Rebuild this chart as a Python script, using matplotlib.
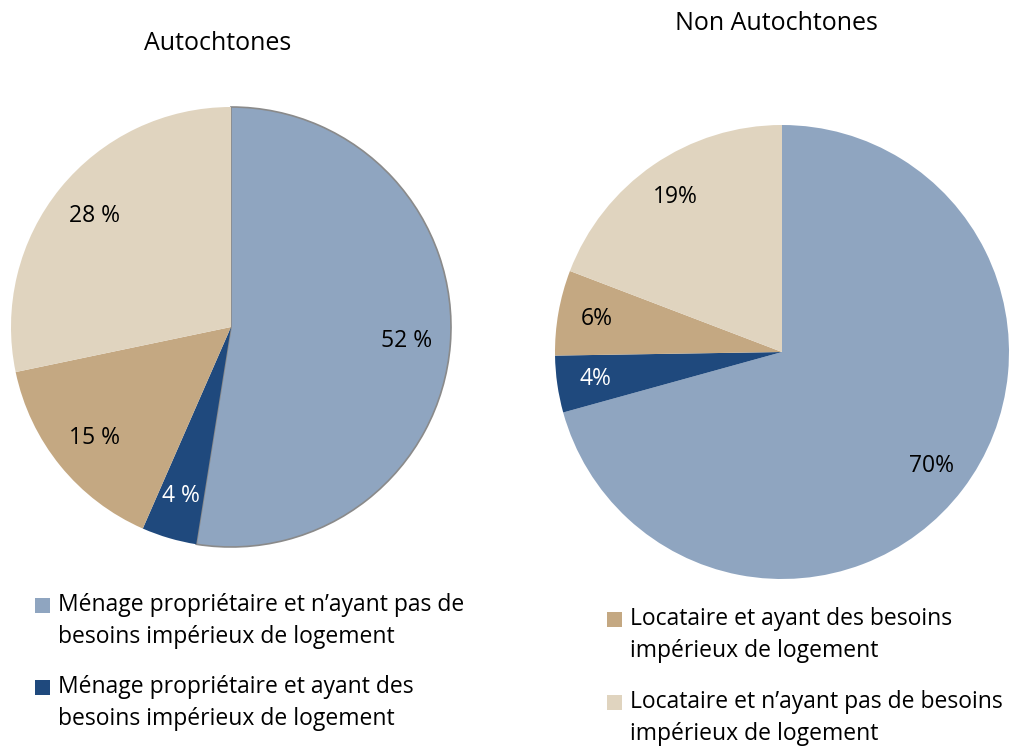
import matplotlib.pyplot as plt
from matplotlib.patches import Rectangle

plt.rcParams['font.family'] = ['Open Sans', 'DejaVu Sans']

# données
categories = [
    "Ménage propriétaire et n\u2019ayant pas de\nbesoins impérieux de logement",
    "Ménage propriétaire et ayant des\nbesoins impérieux de logement",
    "Locataire et ayant des besoins\nimpérieux de logement",
    "Locataire et n\u2019ayant pas de besoins\nimpérieux de logement",
]
autochtones = [52, 4, 15, 28]
non_autochtones = [70, 4, 6, 19]
colors = ["#8FA5C0", "#1F497D", "#C4A882", "#E0D4BF"]
text_colors = ["black", "white", "black", "black"]

W, H = 1010, 748
fig = plt.figure(figsize=(W / 100, H / 100), dpi=100)


def px_axes(cx, cy, r):
    return fig.add_axes([(cx - r) / W, (H - cy - r) / H, 2 * r / W, 2 * r / H])


def draw_pie(ax, vals, fmt, pctd):
    wedges, texts, autotexts = ax.pie(vals, colors=colors, startangle=90, counterclock=False,
                                      autopct='%1.0f', pctdistance=pctd,
                                      wedgeprops=dict(linewidth=0))
    for t, v, c in zip(autotexts, vals, text_colors):
        t.set_text(fmt.format(v))
        t.set_color(c)
        t.set_fontsize(16.5)
    ax.set_xlim(-1, 1)
    ax.set_ylim(-1, 1)
    ax.set_aspect('equal')
    return wedges


ax1 = px_axes(231, 327, 220)
w1 = draw_pie(ax1, autochtones, "{} %", 0.8)
w1[0].set_edgecolor("#8a8a8a")
w1[0].set_linewidth(1.2)
fig.text(218 / W, 1 - 44 / H, "Autochtones", ha='center', va='center', fontsize=18)

ax2 = px_axes(782, 352, 227)
draw_pie(ax2, non_autochtones, "{}%", 0.83)
fig.text(776 / W, 1 - 24 / H, "Non Autochtones", ha='center', va='center', fontsize=18)

# légendes
legend_pos = [(35, 606), (35, 688), (607, 620), (607, 703)]
for (x, y), lab, c in zip(legend_pos, categories, colors):
    fig.patches.append(Rectangle((x / W, 1 - (y + 7) / H), 15 / W, 15 / H,
                                 transform=fig.transFigure, facecolor=c, edgecolor='none'))
    fig.text((x + 23) / W, 1 - (y + 15) / H, lab, ha='left', va='center',
             fontsize=16.5, linespacing=1.4)

fig.savefig("out.png", dpi=100)
